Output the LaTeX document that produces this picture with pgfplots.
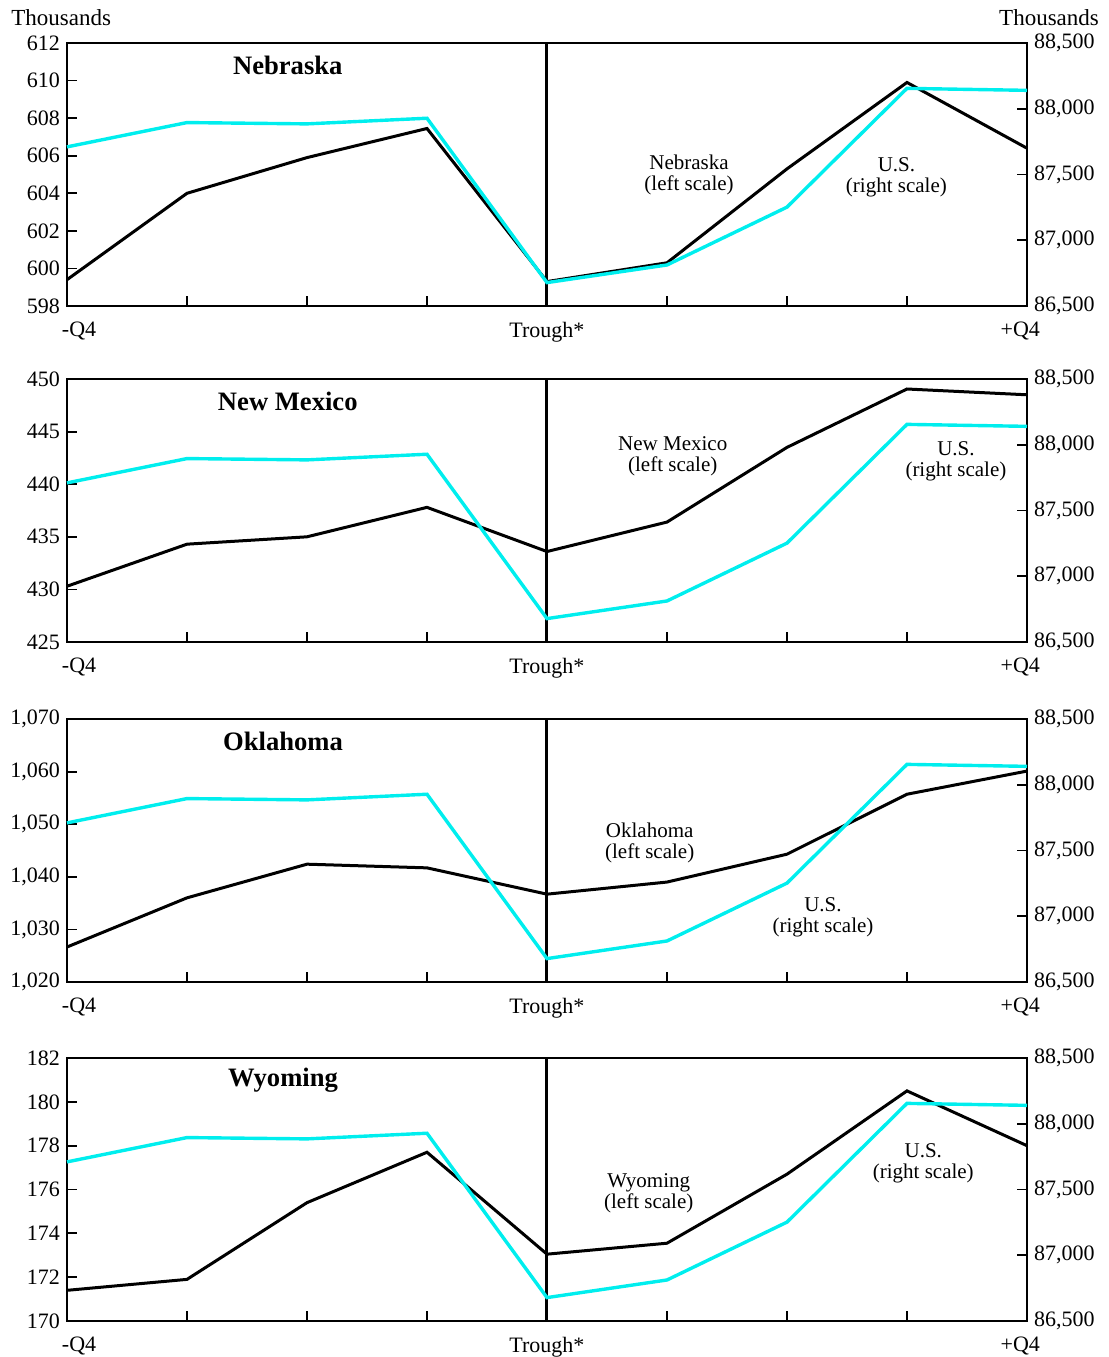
\documentclass[border=0pt]{standalone}
\usepackage{fontspec}
\setmainfont{Liberation Serif}
\usepackage{pgfplots}
\pgfplotsset{compat=1.18}
\definecolor{uscyan}{RGB}{0,238,238}
\pgfplotsset{
  base/.style={scale only axis, width=480pt, height=131.5pt, xmin=-4, xmax=4, clip=false,
    tick align=inside, major tick length=5pt,
    tick style={black, line width=0.9pt},
    axis line style={line width=1pt, black},
    ticklabel style={font=\fontsize{11}{13}\selectfont},
    /pgf/number format/assume math mode=true,
    /pgf/number format/fixed,
    /pgf/number format/1000 sep={,},
    scaled y ticks=false},
  leftax/.style={base, xtick={-4,...,4},
    xticklabels={\makebox[0pt][l]{\hspace*{-2.5pt}-Q4},,,,Trough*,,,,\makebox[0pt][r]{+Q4\hspace*{-6.5pt}}},
    xticklabel style={yshift=-4.5pt},
    xtick pos=bottom, ytick pos=left, anchor=north west},
  rightax/.style={base, axis x line=none, axis y line*=right, ymin=86500, ymax=88500,
    ytick={86500,87000,87500,88000,88500}, anchor=north west},
  st/.style={black, line width=1.5pt},
  us/.style={uscyan, line width=1.7pt},
}
\tikzset{
  lbl/.style={align=center, font=\fontsize{10.5}{10.5}\selectfont},
  ttl/.style={font=\bfseries\fontsize{13.3}{15}\selectfont},
}
\newcommand{\usdata}{\addplot[us] coordinates {(-4,87710) (-3,87895) (-2,87885) (-1,87928) (0,86678) (1,86812) (2,87252) (3,88155) (4,88140)};}
\begin{document}
\begin{tikzpicture}
% Panel 1: Nebraska
\begin{axis}[leftax, at={(0pt,0pt)}, ymin=598, ymax=612, ytick={598,600,...,612}]
\addplot[st] coordinates {(-4,599.4) (-3,604.0) (-2,605.9) (-1,607.45) (0,599.3) (1,600.3) (2,605.3) (3,609.9) (4,606.4)};
\addplot[black, line width=1.5pt] coordinates {(0,598) (0,612)};
\node[ttl] at (rel axis cs:0.230,0.913) {Nebraska};
\node[lbl] at (rel axis cs:0.648,0.500) {Nebraska\\(left scale)};
\node[lbl] at (rel axis cs:0.864,0.490) {U.S.\\(right scale)};
\node[font=\fontsize{11.5}{13}\selectfont] at (rel axis cs:-0.006,1.095) {Thousands};
\node[font=\fontsize{11.5}{13}\selectfont] at (rel axis cs:1.023,1.095) {Thousands};
\end{axis}
\begin{axis}[rightax, at={(0pt,0pt)}]
\usdata
\end{axis}
% Panel 2: New Mexico
\begin{axis}[leftax, at={(0pt,-168pt)}, ymin=425, ymax=450, ytick={425,430,...,450}]
\addplot[st] coordinates {(-4,430.3) (-3,434.3) (-2,435.0) (-1,437.8) (0,433.6) (1,436.4) (2,443.5) (3,449.05) (4,448.5)};
\addplot[black, line width=1.5pt] coordinates {(0,425) (0,450)};
\node[ttl] at (rel axis cs:0.230,0.913) {New Mexico};
\node[lbl] at (rel axis cs:0.631,0.705) {New Mexico\\(left scale)};
\node[lbl] at (rel axis cs:0.926,0.686) {U.S.\\(right scale)};
\end{axis}
\begin{axis}[rightax, at={(0pt,-168pt)}]
\usdata
\end{axis}
% Panel 3: Oklahoma
\begin{axis}[leftax, at={(0pt,-338pt)}, ymin=1020, ymax=1070, ytick={1020,1030,...,1070}]
\addplot[st] coordinates {(-4,1026.65) (-3,1036.0) (-2,1042.4) (-1,1041.7) (0,1036.7) (1,1039.0) (2,1044.3) (3,1055.7) (4,1060.1)};
\addplot[black, line width=1.5pt] coordinates {(0,1020) (0,1070)};
\node[ttl] at (rel axis cs:0.225,0.916) {Oklahoma};
\node[lbl] at (rel axis cs:0.607,0.529) {Oklahoma\\(left scale)};
\node[lbl] at (rel axis cs:0.7875,0.247) {U.S.\\(right scale)};
\end{axis}
\begin{axis}[rightax, at={(0pt,-338pt)}]
\usdata
\end{axis}
% Panel 4: Wyoming
\begin{axis}[leftax, at={(0pt,-507.5pt)}, ymin=170, ymax=182, ytick={170,172,...,182}]
\addplot[st] coordinates {(-4,171.4) (-3,171.9) (-2,175.4) (-1,177.7) (0,173.05) (1,173.55) (2,176.7) (3,180.5) (4,178.0)};
\addplot[black, line width=1.5pt] coordinates {(0,170) (0,182)};
\node[ttl] at (rel axis cs:0.225,0.916) {Wyoming};
\node[lbl] at (rel axis cs:0.606,0.487) {Wyoming\\(left scale)};
\node[lbl] at (rel axis cs:0.892,0.601) {U.S.\\(right scale)};
\end{axis}
\begin{axis}[rightax, at={(0pt,-507.5pt)}]
\usdata
\end{axis}
\pgfresetboundingbox
\useasboundingbox (-33.5pt,21.5pt) rectangle (521pt,-657pt);
\end{tikzpicture}
\end{document}
